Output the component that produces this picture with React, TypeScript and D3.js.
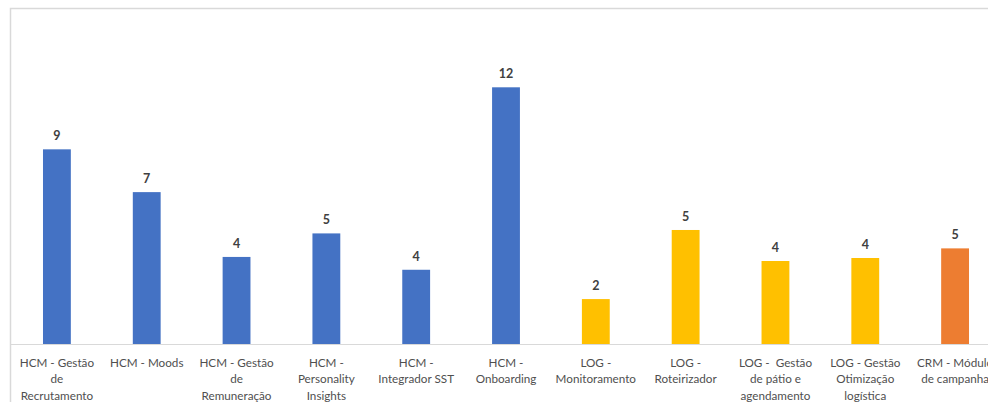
import { scaleBand, scaleLinear } from "d3";

const categories = [
  "HCM - Gestão de Recrutamento",
  "HCM - Moods",
  "HCM - Gestão de Remuneração",
  "HCM - Personality Insights",
  "HCM - Integrador SST",
  "HCM - Onboarding",
  "LOG - Monitoramento",
  "LOG - Roteirizador",
  "LOG -  Gestão de pátio e agendamento",
  "LOG - Gestão Otimização logística",
  "CRM - Módulo de campanha",
];

// axis label lines as wrapped in the original
const tickLines = [
  ["HCM - Gestão", "de", "Recrutamento"],
  ["HCM - Moods"],
  ["HCM - Gestão", "de", "Remuneração"],
  ["HCM -", "Personality", "Insights"],
  ["HCM -", "Integrador SST"],
  ["HCM -", "Onboarding"],
  ["LOG -", "Monitoramento"],
  ["LOG -", "Roteirizador"],
  ["LOG -  Gestão", "de pátio e", "agendamento"],
  ["LOG - Gestão", "Otimização", "logística"],
  ["CRM - Módulo", "de campanha"],
];

// bar heights as measured, and the rounded labels shown above them
const values = [9.1, 7.1, 4.07, 5.17, 3.47, 12, 2.1, 5.33, 3.88, 4.02, 4.47];
const valueLabels = ["9", "7", "4", "5", "4", "12", "2", "5", "4", "4", "5"];
const groups = ["HCM", "HCM", "HCM", "HCM", "HCM", "HCM", "LOG", "LOG", "LOG", "LOG", "CRM"];

const groupColor: Record<string, string> = {
  HCM: "#4472C4",
  LOG: "#FFC000",
  CRM: "#ED7D31",
};

export default function App() {
  const width = 988;
  const height = 402;
  const plot = { left: 11, right: 1000, top: 9, bottom: 344 };

  const x = scaleBand<string>()
    .domain(categories)
    .range([plot.left + 1, plot.right])
    .paddingInner(0.69)
    .paddingOuter(0.345);
  const y = scaleLinear().domain([0, 12]).range([plot.bottom, 87.3]);
  const bw = x.bandwidth();

  return (
    <svg
      width={width}
      height={height}
      style={{ position: "fixed", left: 0, top: 0, background: "#fff" }}
      fontFamily="Lato, 'Open Sans', sans-serif"
    >
      <rect x={0} y={0} width={width} height={height} fill="#fff" />
      {/* chart frame */}
      <path
        d={`M ${plot.left - 0.5} ${height + 5} V ${plot.top - 0.5} H ${width + 5}`}
        fill="none"
        stroke="#D9D9D9"
        strokeWidth={1.5}
      />
      {/* baseline */}
      <line x1={plot.left} x2={width} y1={plot.bottom + 0.5} y2={plot.bottom + 0.5} stroke="#D9D9D9" strokeWidth={1} />

      {categories.map((cat, i) => {
        const bx = x(cat) ?? 0;
        const top = y(values[i]);
        const cx = bx + bw / 2;
        return (
          <g key={cat}>
            <rect x={bx} y={top} width={bw} height={plot.bottom - top} fill={groupColor[groups[i]]} />
            <text
              x={cx}
              y={top - 9}
              textAnchor="middle"
              fontSize={12.5}
              fontWeight={700}
              fill="#404040"
            >
              {valueLabels[i]}
            </text>
            <text textAnchor="middle" fontSize={11.7} fill="#4f4f4f">
              {tickLines[i].map((line, j) => (
                <tspan key={j} x={cx} y={367 + j * 16.3} style={{ whiteSpace: "pre" }}>
                  {line}
                </tspan>
              ))}
            </text>
          </g>
        );
      })}
    </svg>
  );
}
